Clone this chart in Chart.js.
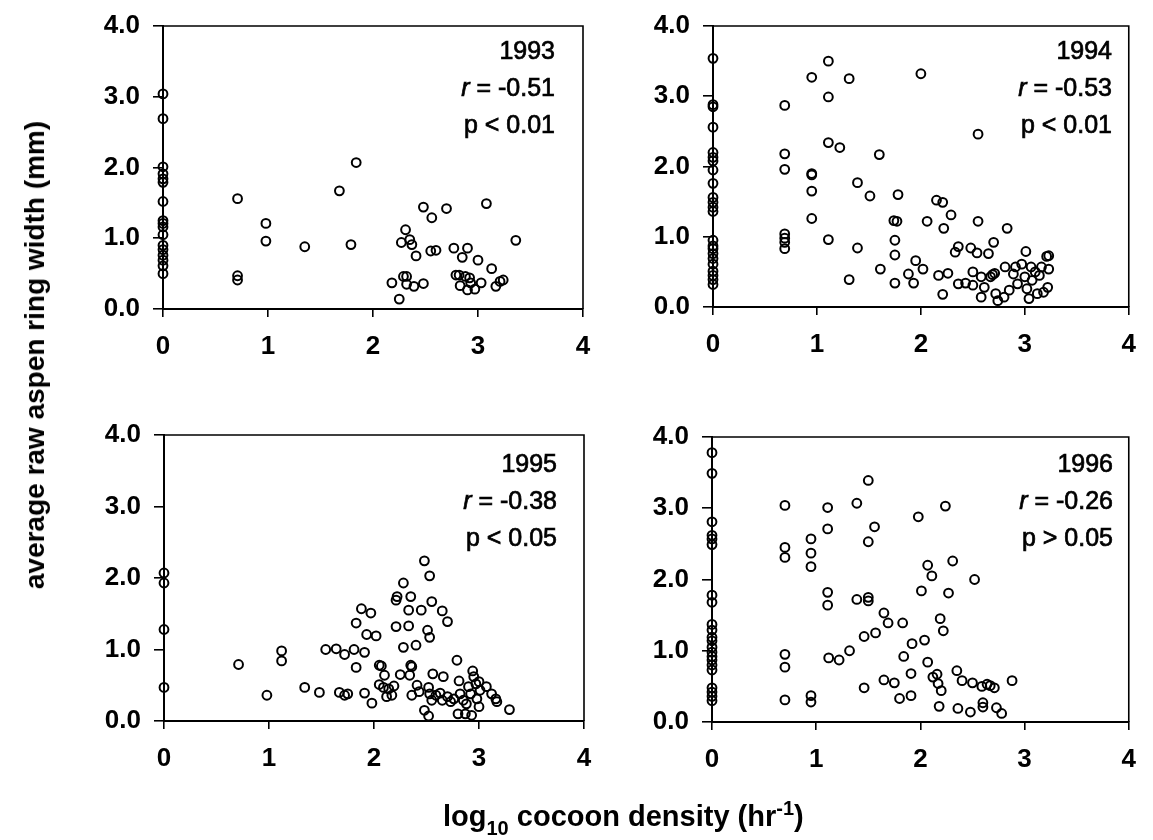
<!DOCTYPE html>
<html>
<head>
<meta charset="utf-8">
<script src="https://cdn.jsdelivr.net/npm/chart.js@4.4.1/dist/chart.umd.min.js"></script>
<style>
html,body{margin:0;padding:0;background:#fff;}
#wrap{position:relative;width:1153px;height:840px;overflow:hidden;font-family:"Liberation Sans",Arial,Helvetica,sans-serif;color:#000;}
canvas{position:absolute;left:0;top:0;}
.ann{position:absolute;text-align:right;font-size:25px;line-height:37px;white-space:nowrap;-webkit-text-stroke:0.7px #000;}
.ytitle{position:absolute;left:35px;top:355px;font-size:28px;line-height:28px;font-weight:bold;white-space:nowrap;transform:translate(-50%,-50%) rotate(-90deg);}
.xtitle{position:absolute;left:443px;top:802px;font-size:29px;line-height:29px;font-weight:bold;white-space:nowrap;}
.xtitle .sub{font-size:20px;position:relative;top:9px;}
.xtitle .sup{font-size:20px;position:relative;top:-11px;}
</style>
</head>
<body>
<div id="wrap">
  <canvas id="c1993" width="1153" height="840"></canvas>
  <canvas id="c1994" width="1153" height="840"></canvas>
  <canvas id="c1995" width="1153" height="840"></canvas>
  <canvas id="c1996" width="1153" height="840"></canvas>
  <div class="ann" style="right:598px;top:32px;">1993<br><i>r</i> = -0.51<br>p &lt; 0.01</div>
  <div class="ann" style="right:41px;top:32px;">1994<br><i>r</i> = -0.53<br>p &lt; 0.01</div>
  <div class="ann" style="right:596px;top:445px;">1995<br><i>r</i> = -0.38<br>p &lt; 0.05</div>
  <div class="ann" style="right:40px;top:445px;">1996<br><i>r</i> = -0.26<br>p &gt; 0.05</div>
  <div class="ytitle">average raw aspen ring width (mm)</div>
  <div class="xtitle">log<span class="sub">10</span> cocoon density (hr<span class="sup">-1</span>)</div>
</div>
<script>
// x: log10 cocoon density, y: average raw aspen ring width (mm)
const xTicks = [0, 1, 2, 3, 4];
const yTicks = [0, 1, 2, 3, 4];

const pts1993 = [
  [0,3.04],[0,2.69],[0,2.01],[0,1.91],[0,1.84],[0,1.79],[0,1.52],[0,1.25],[0,1.21],[0,1.16],[0,1.05],[0,0.90],[0,0.84],[0,0.76],[0,0.69],[0,0.61],[0,0.50],
  [0.71,1.56],[0.71,0.47],[0.71,0.41],[0.98,1.21],[0.98,0.96],[1.35,0.88],[1.68,1.67],[1.79,0.91],[1.84,2.07],
  [2.18,0.37],[2.25,0.14],[2.27,0.94],[2.29,0.46],[2.31,1.12],[2.32,0.46],[2.35,0.98],[2.37,0.91],[2.32,0.35],[2.39,0.32],
  [2.41,0.75],[2.48,0.36],[2.48,1.44],[2.56,1.29],[2.55,0.82],[2.60,0.83],[2.70,1.42],[2.77,0.86],[2.79,0.48],[2.82,0.48],
  [2.85,0.73],[2.83,0.33],[2.90,0.86],[2.88,0.46],[2.92,0.44],[2.90,0.27],[2.93,0.37],[2.97,0.28],[3.00,0.69],[3.03,0.37],
  [3.08,1.49],[3.13,0.57],[3.17,0.32],[3.21,0.39],[3.24,0.41],[3.36,0.97]
];

const pts1994 = [
  [0,3.54],[0,2.88],[0,2.85],[0,2.56],[0,2.20],[0,2.13],[0,2.08],[0,1.95],[0,1.76],[0,1.56],[0,1.49],[0,1.42],[0,1.36],
  [0,0.95],[0,0.87],[0,0.83],[0,0.76],[0,0.69],[0,0.61],[0,0.51],[0,0.45],[0,0.39],[0,0.32],
  [0.69,2.87],[0.69,2.18],[0.69,1.96],[0.69,1.04],[0.69,0.98],[0.69,0.92],[0.69,0.83],
  [0.95,3.27],[0.95,1.90],[0.95,1.88],[0.95,1.65],[0.95,1.26],
  [1.11,3.50],[1.11,2.99],[1.11,2.34],[1.11,0.96],[1.22,2.27],[1.31,3.25],[1.31,0.39],[1.39,1.77],[1.39,0.84],
  [1.51,1.58],[1.60,2.17],[1.61,0.54],[1.74,1.23],[1.77,1.22],[1.75,0.95],[1.75,0.74],[1.75,0.34],[1.78,1.60],
  [1.88,0.47],[1.93,0.34],[1.95,0.66],[2.00,3.32],[2.02,0.54],[2.06,1.22],[2.15,1.52],[2.21,1.49],[2.29,1.31],
  [2.22,1.12],[2.17,0.45],[2.26,0.48],[2.21,0.18],[2.33,0.78],[2.36,0.86],[2.36,0.33],[2.43,0.34],[2.48,0.84],
  [2.54,0.77],[2.55,2.46],[2.55,1.22],[2.50,0.50],[2.50,0.31],[2.58,0.43],[2.58,0.14],[2.61,0.28],[2.65,0.76],
  [2.67,0.43],[2.70,0.92],[2.69,0.46],[2.71,0.48],[2.72,0.19],[2.74,0.09],[2.80,0.14],[2.81,0.57],[2.83,1.12],
  [2.85,0.24],[2.89,0.47],[2.91,0.57],[2.93,0.33],[2.97,0.61],[3.01,0.79],[3.00,0.43],[3.02,0.26],[3.04,0.12],
  [3.06,0.57],[3.07,0.38],[3.10,0.50],[3.12,0.19],[3.14,0.45],[3.16,0.57],[3.18,0.21],[3.21,0.72],[3.23,0.73],
  [3.23,0.54],[3.22,0.28]
];

const pts1995 = [
  [0,2.07],[0,1.93],[0,1.28],[0,0.47],
  [0.71,0.79],[0.98,0.36],[1.12,0.98],[1.12,0.84],[1.34,0.47],[1.48,0.40],[1.54,1.00],[1.64,1.01],[1.67,0.40],
  [1.72,0.93],[1.72,0.36],[1.75,0.38],[1.81,1.00],[1.83,0.75],[1.83,1.37],[1.88,1.57],[1.91,0.96],[1.91,0.39],
  [1.93,1.21],[1.97,1.51],[1.98,0.25],[2.02,1.19],[2.05,0.78],[2.07,0.77],[2.05,0.51],[2.10,0.64],[2.09,0.47],
  [2.12,0.34],[2.14,0.45],[2.17,0.36],[2.19,0.49],[2.21,1.32],[2.21,1.69],[2.22,1.74],[2.25,0.65],[2.28,1.03],
  [2.28,1.93],[2.33,1.33],[2.33,1.55],[2.35,1.74],[2.35,0.78],[2.36,0.76],[2.34,0.64],[2.36,0.36],[2.40,1.06],
  [2.41,0.50],[2.43,0.41],[2.45,1.55],[2.48,2.24],[2.48,0.15],[2.51,1.27],[2.53,2.03],[2.53,1.17],[2.52,0.47],
  [2.53,0.38],[2.52,0.07],[2.55,1.67],[2.56,0.66],[2.55,0.29],[2.59,0.36],[2.63,0.39],[2.65,1.54],[2.66,0.62],
  [2.65,0.29],[2.70,1.39],[2.70,0.34],[2.73,0.27],[2.76,0.31],[2.79,0.85],[2.81,0.56],[2.80,0.10],[2.82,0.38],
  [2.85,0.29],[2.87,0.10],[2.88,0.24],[2.90,0.48],[2.92,0.38],[2.94,0.70],[2.93,0.08],[2.95,0.62],[2.97,0.52],
  [2.98,0.31],[3.00,0.20],[3.00,0.55],[3.01,0.43],[3.07,0.48],[3.12,0.38],[3.16,0.31],[3.17,0.27],[3.29,0.16]
];

const pts1996 = [
  [0,3.78],[0,3.49],[0,2.81],[0,2.62],[0,2.57],[0,2.49],[0,1.78],[0,1.68],[0,1.37],[0,1.29],[0,1.19],[0,1.14],
  [0,1.05],[0,0.98],[0,0.92],[0,0.87],[0,0.80],[0,0.73],[0,0.48],[0,0.42],[0,0.36],[0,0.30],
  [0.70,3.04],[0.70,2.45],[0.70,2.31],[0.70,0.95],[0.70,0.77],[0.70,0.31],
  [0.95,2.57],[0.95,2.37],[0.95,2.18],[0.95,0.37],[0.95,0.28],
  [1.11,3.01],[1.11,2.71],[1.11,1.82],[1.11,1.64],[1.12,0.90],[1.22,0.87],[1.32,1.00],[1.39,3.07],[1.39,1.72],
  [1.46,1.20],[1.46,0.48],[1.50,3.39],[1.50,2.53],[1.50,1.75],[1.50,1.70],[1.56,2.74],[1.57,1.25],[1.65,1.53],
  [1.65,0.59],[1.69,1.39],[1.75,0.55],[1.80,0.33],[1.83,1.39],[1.84,0.92],[1.91,0.68],[1.91,0.37],[1.92,1.10],
  [1.98,2.88],[2.01,1.84],[2.04,1.15],[2.07,0.84],[2.07,2.20],[2.11,2.05],[2.12,0.63],[2.16,0.67],[2.17,0.54],
  [2.19,1.45],[2.18,0.22],[2.20,0.44],[2.22,1.28],[2.24,3.03],[2.27,1.81],[2.31,2.26],[2.35,0.72],[2.36,0.19],
  [2.40,0.58],[2.48,0.14],[2.50,0.55],[2.52,2.00],[2.59,0.50],[2.60,0.27],[2.60,0.21],[2.64,0.53],[2.67,0.51],
  [2.71,0.48],[2.73,0.20],[2.78,0.12],[2.88,0.58]
];

// Panel plot-area rectangles (page pixels)
const W = 1153, H = 840, Y_W = 80, X_H = 60;
const FONT = '"Liberation Sans", Arial, Helvetica, sans-serif';

const frame = {
  id: 'frame',
  beforeDatasetsDraw(chart) {
    const a = chart.chartArea, ctx = chart.ctx;
    ctx.save();
    ctx.strokeStyle = '#000';
    ctx.lineWidth = 1.6;
    ctx.beginPath();
    ctx.moveTo(a.left, a.top);
    ctx.lineTo(a.right, a.top);
    ctx.lineTo(a.right, a.bottom);
    ctx.stroke();
    ctx.restore();
  }
};

function makePanel(id, pts, area) {
  new Chart(document.getElementById(id), {
    type: 'scatter',
    data: {
      datasets: [{
        data: pts.map(p => ({x: p[0], y: p[1]})),
        pointRadius: 4.4,
        pointHoverRadius: 4.4,
        pointBorderWidth: 2,
        borderColor: '#000',
        pointBorderColor: '#000',
        backgroundColor: 'rgba(0,0,0,0)',
        pointBackgroundColor: 'rgba(0,0,0,0)',
        clip: false
      }]
    },
    options: {
      responsive: false,
      animation: false,
      events: [],
      layout: {padding: {left: area.l - Y_W, top: area.t, right: W - area.r, bottom: H - area.b - X_H}},
      plugins: {legend: {display: false}, tooltip: {enabled: false}},
      scales: {
        x: {
          type: 'linear', min: xTicks[0], max: xTicks[xTicks.length - 1],
          afterFit(s) { s.height = X_H; },
          afterBuildTicks(s) { s.ticks = xTicks.map(v => ({value: v})); },
          ticks: {color: '#000', font: {family: FONT, size: 26, weight: 'bold', lineHeight: 1}, padding: 17, maxRotation: 0, autoSkip: false,
                  callback: v => String(v)},
          grid: {drawOnChartArea: false, drawTicks: true, tickLength: 8, color: '#000', lineWidth: 1.6},
          border: {color: '#000', width: 2}
        },
        y: {
          type: 'linear', min: yTicks[0], max: yTicks[yTicks.length - 1],
          afterFit(s) { s.width = Y_W; },
          afterBuildTicks(s) { s.ticks = yTicks.map(v => ({value: v})); },
          ticks: {color: '#000', font: {family: FONT, size: 26, weight: 'bold', lineHeight: 1}, padding: 13,
                  callback: v => Number(v).toFixed(1)},
          grid: {drawOnChartArea: false, drawTicks: true, tickLength: 10, color: '#000', lineWidth: 1.6},
          border: {color: '#000', width: 2}
        }
      }
    },
    plugins: [frame]
  });
}

makePanel('c1993', pts1993, {l: 163, t: 24, r: 583, b: 309});
makePanel('c1994', pts1994, {l: 713, t: 25, r: 1131, b: 307});
makePanel('c1995', pts1995, {l: 164, t: 435, r: 584, b: 721});
makePanel('c1996', pts1996, {l: 712, t: 437, r: 1133, b: 722});
</script>
</body>
</html>
